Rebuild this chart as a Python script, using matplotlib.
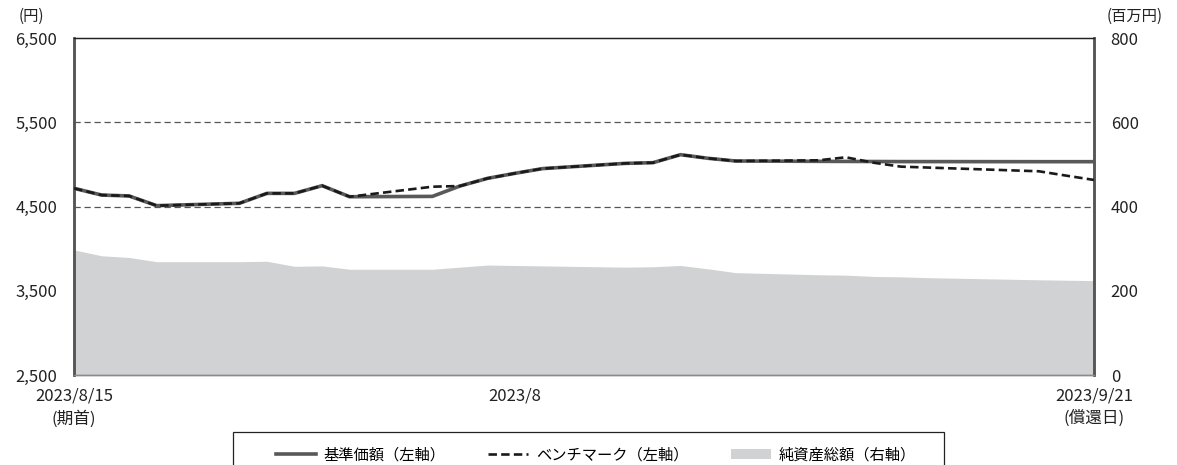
import matplotlib
matplotlib.use("Agg")
import matplotlib.pyplot as plt
from matplotlib.lines import Line2D
from matplotlib.patches import Patch, Rectangle
from matplotlib.ticker import FuncFormatter
import numpy as np

plt.rcParams['font.family'] = ['Noto Sans CJK JP', 'DejaVu Sans']

# business days of the period
dates = ["2023-08-15", "2023-08-16", "2023-08-17", "2023-08-18", "2023-08-21",
         "2023-08-22", "2023-08-23", "2023-08-24", "2023-08-25", "2023-08-28",
         "2023-08-29", "2023-08-30", "2023-08-31", "2023-09-01", "2023-09-04",
         "2023-09-05", "2023-09-06", "2023-09-07", "2023-09-08", "2023-09-11",
         "2023-09-12", "2023-09-13", "2023-09-14", "2023-09-15", "2023-09-19",
         "2023-09-20", "2023-09-21"]
nav = [4716, 4636, 4625, 4510, 4538, 4656, 4656, 4747, 4616, 4620,
       4743, 4834, 4894, 4950, 5012, 5020, 5115, 5072, 5040, 5036,
       5035, 5034, 5033, 5033, 5032, 5032, 5032]
bench = [4716, 4636, 4625, 4510, 4538, 4656, 4656, 4747, 4616, 4735,
         4743, 4834, 4894, 4950, 5012, 5020, 5115, 5072, 5040, 5048,
         5084, 5020, 4973, 4962, 4918, 4866, 4815]
net_assets = [297, 283, 279, 269, 269, 270, 258, 259, 251, 251,
              256, 261, 260, 259, 256, 257, 260, 252, 243, 238,
              237, 234, 233, 231, 226, 225, 224]

left_ticks = [2500, 3500, 4500, 5500, 6500]
right_ticks = [0, 200, 400, 600, 800]
tick_dates = ["2023-08-15", "2023-08-31", "2023-09-21"]
tick_labels = ["2023/8/15\n(期首)", "2023/8", "2023/9/21\n(償還日)"]
legend_labels = ["基準価額（左軸）", "ベンチマーク（左軸）", "純資産総額（右軸）"]

x = np.array(dates, dtype="datetime64[D]")

W, H = 1177, 465
fig = plt.figure(figsize=(W / 100, H / 100), dpi=100)
ax = fig.add_axes([74 / W, 1 - 375 / H, (1094 - 74) / W, (375 - 38) / H])
ax2 = ax.twinx()

# net assets area on the right axis, behind the lines
ax2.fill_between(x, net_assets, 0, color="#d1d2d4", linewidth=0)
ax2.set_ylim(0, 800)
ax2.set_yticks(right_ticks)
ax2.tick_params(axis="y", length=0, pad=12, labelsize=12, colors="#222222")

ax.set_zorder(ax2.get_zorder() + 1)
ax.patch.set_visible(False)

for g in [4500, 5500]:
    ax.axhline(g, color="#555555", linewidth=0.9, linestyle=(0, (5, 3)), zorder=1)

ax.plot(x, nav, color="#595959", linewidth=2.6, solid_joinstyle="miter", zorder=3)
ax.plot(x, bench, color="#1a1a1a", linewidth=1.9, linestyle=(0, (3.2, 1.6)), zorder=4)

ax.set_ylim(2500, 6500)
ax.set_yticks(left_ticks)
ax.yaxis.set_major_formatter(FuncFormatter(lambda v, p: f"{int(v):,}"))
ax.tick_params(axis="y", length=0, pad=12, labelsize=12, colors="#222222")

ax.set_xlim(np.datetime64("2023-08-15"), np.datetime64("2023-09-21"))
ax.set_xticks(np.array(tick_dates, dtype="datetime64[D]"))
ax.set_xticklabels(tick_labels, linespacing=1.4)
ax.tick_params(axis="x", which="major", length=0, pad=9, labelsize=12, colors="#222222")
ax.set_xticks([np.datetime64("2023-08-31")], minor=True)
ax.tick_params(axis="x", which="minor", direction="in", length=7, width=0.8, color="#333333")

for a in (ax, ax2):
    a.spines["top"].set_color("#222222")
    a.spines["top"].set_linewidth(0.9)
    a.spines["left"].set_color("#555555")
    a.spines["left"].set_linewidth(1.8)
    a.spines["right"].set_color("#555555")
    a.spines["right"].set_linewidth(1.8)
    a.spines["bottom"].set_color("#8a8a8a")
    a.spines["bottom"].set_linewidth(1.0)

fig.text(31 / W, 1 - 16 / H, "(円)", ha="center", va="center", fontsize=11, color="#222222")
fig.text(1135 / W, 1 - 16 / H, "(百万円)", ha="center", va="center", fontsize=11, color="#222222")

handles = [Line2D([], [], color="#595959", linewidth=2.6),
           Line2D([], [], color="#1a1a1a", linewidth=1.9, linestyle=(0, (3.2, 1.6))),
           Patch(facecolor="#d1d2d4", edgecolor="none")]
fig.legend(handles, legend_labels, loc="center", bbox_to_anchor=(596 / W, 1 - 455 / H),
           ncol=3, frameon=False, fontsize=11, handlelength=2.6, handletextpad=0.5,
           columnspacing=2.8, handleheight=0.6)
fig.patches.append(Rectangle((233 / W, 1 - 490 / H), (944 - 233) / W, (490 - 432) / H,
                             transform=fig.transFigure, facecolor="none",
                             edgecolor="#222222", linewidth=0.9))

fig.savefig("out.png", dpi=100)
